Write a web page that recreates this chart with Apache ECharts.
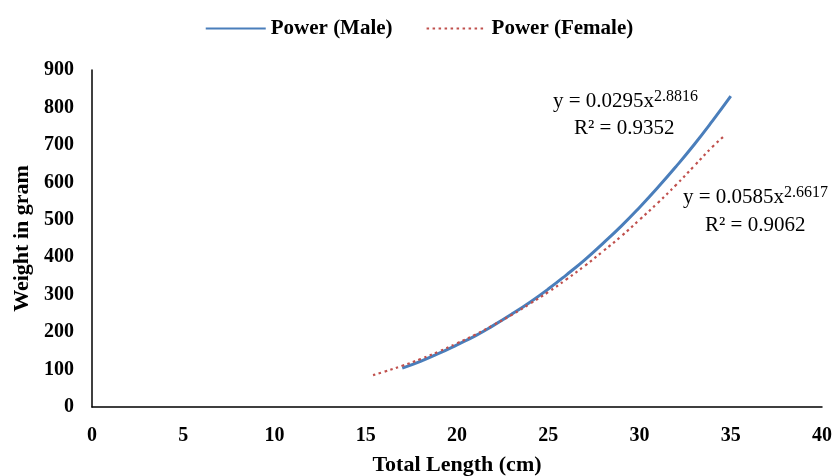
<!DOCTYPE html>
<html><head><meta charset="utf-8">
<script src="https://cdn.jsdelivr.net/npm/echarts@6/dist/echarts.min.js"></script>
<style>html,body{margin:0;padding:0;background:#fff}#c{width:838px;height:476px}</style>
</head><body><div id="c"></div>
<script>
const xTicks = [0,5,10,15,20,25,30,35,40];
const maleX = [17,18,19,20,21,22,23,24,25,26,27,28,29,30,31,32,33,34,35];
const maleY = [104,122,143,166,190,218,248,280,315,353,393,437,483,533,586,642,701,764,830];
const femaleX = [15.4,16,17,18,19,20,21,22,23,24,25,26,27,28,29,30,31,32,33,34,34.6];
const femaleY = [85,94,110,128,148,170,193,219,246,276,307,341,377,416,456,500,545,593,644,695,722];
const seriesNames = ['Power (Male)','Power (Female)'];
const maleEq = ['y = 0.0295x','2.8816','R² = 0.9352'];
const femaleEq = ['y = 0.0585x','2.6617','R² = 0.9062'];

const serif = '"Liberation Serif","Times New Roman",serif';
const chart = echarts.init(document.getElementById('c'));
const rich = {
  a:{fontFamily:serif,fontSize:21,color:'#000',lineHeight:24},
  s:{fontFamily:serif,fontSize:16,color:'#000',verticalAlign:'top',lineHeight:24,padding:[0,0,10,0]}
};
chart.setOption({
  animation:false,
  backgroundColor:'#fff',
  legend:{
    top:13,left:'center',itemGap:33,itemWidth:60,itemHeight:14,
    itemStyle:{opacity:0},
    textStyle:{fontFamily:serif,fontSize:21,fontWeight:'bold',color:'#000'},
    data:seriesNames
  },
  grid:{left:92,right:16,top:70,bottom:69,containLabel:false,outerBoundsMode:'none'},
  xAxis:{
    type:'value',min:0,max:40,interval:5,
    name:'Total Length (cm)',nameLocation:'middle',nameGap:47,
    nameTextStyle:{fontFamily:serif,fontSize:22,fontWeight:'bold',color:'#000'},
    axisLine:{lineStyle:{color:'#000',width:1.5}},
    axisTick:{show:false},splitLine:{show:false},
    axisLabel:{fontFamily:serif,fontSize:20,fontWeight:'bold',color:'#000',margin:19}
  },
  yAxis:{
    type:'value',min:0,max:900,interval:100,
    name:'Weight in gram',nameLocation:'middle',nameGap:58,
    nameTextStyle:{fontFamily:serif,fontSize:22,fontWeight:'bold',color:'#000'},
    axisLine:{show:true,lineStyle:{color:'#000',width:1.5}},
    axisTick:{show:false},splitLine:{show:false},
    axisLabel:{fontFamily:serif,fontSize:20,fontWeight:'bold',color:'#000',margin:18}
  },
  series:[
    {name:seriesNames[0],type:'line',smooth:true,showSymbol:false,symbol:'none',
     data:maleX.map((x,i)=>[x,maleY[i]]),
     lineStyle:{color:'#4a7ebb',width:3},itemStyle:{color:'#4a7ebb'}},
    {name:seriesNames[1],type:'line',smooth:true,showSymbol:false,symbol:'none',
     data:femaleX.map((x,i)=>[x,femaleY[i]]),
     lineStyle:{color:'#c0504d',width:2.2,type:[2.5,3.5]},itemStyle:{color:'#c0504d'}}
  ],
  graphic:[
    {type:'text',left:553,top:89,style:{text:'{a|'+maleEq[0]+'}{s|'+maleEq[1]+'}',rich:rich}},
    {type:'text',left:574,top:118,style:{text:'{a|'+maleEq[2]+'}',rich:rich}},
    {type:'text',left:683,top:185,style:{text:'{a|'+femaleEq[0]+'}{s|'+femaleEq[1]+'}',rich:rich}},
    {type:'text',left:705,top:215,style:{text:'{a|'+femaleEq[2]+'}',rich:rich}}
  ]
});
</script></body></html>
